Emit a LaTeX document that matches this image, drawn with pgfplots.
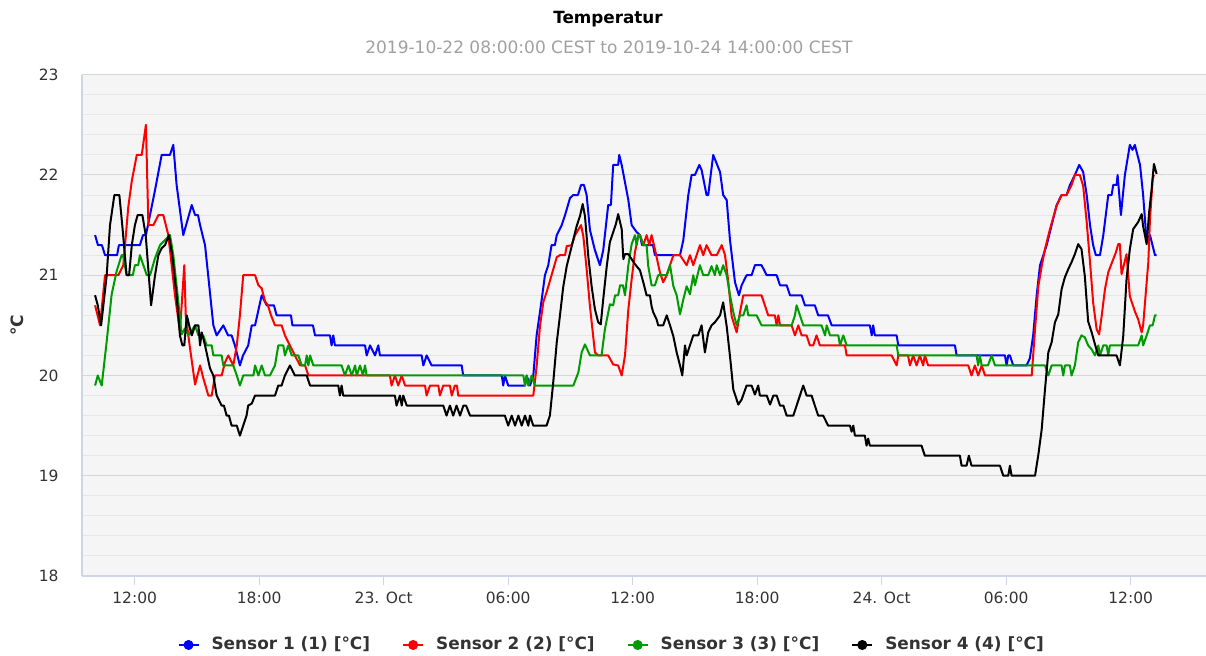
\documentclass[border=0pt]{standalone}
\usepackage{fontspec}
\setmainfont{DejaVu Sans}
\usepackage{pgfplots}
\pgfplotsset{compat=1.18}
\definecolor{axline}{RGB}{204,214,235}
\definecolor{bgc}{RGB}{245,245,245}
\definecolor{gmaj}{RGB}{214,214,214}
\definecolor{gmin}{RGB}{230,230,230}
\definecolor{txt}{RGB}{51,51,51}
\definecolor{subc}{RGB}{160,160,160}
\definecolor{sblue}{RGB}{0,0,255}
\definecolor{sred}{RGB}{255,0,0}
\definecolor{sgreen}{RGB}{0,155,0}
\begin{document}
\begin{tikzpicture}
\useasboundingbox (0,0) rectangle (603pt,327.5pt);
\begin{axis}[
  at={(41pt,39.5pt)}, anchor=south west,
  scale only axis, width=562pt, height=250.65pt,
  xmin=9.46, xmax=63.63, ymin=18, ymax=23,
  /pgf/number format/assume math mode=true,
  axis background/.style={fill=bgc},
  axis x line*=bottom, axis y line*=left,
  x axis line style={-, draw=axline, line width=0.6pt},
  y axis line style={-, draw=axline, line width=0.6pt},
  xtick={12,18,24,30,36,42,48,54,60},
  xticklabels={12:00,18:00,23. Oct,06:00,12:00,18:00,24. Oct,06:00,12:00},
  ytick={18,19,20,21,22,23},
  minor y tick num=4,
  ymajorgrids, yminorgrids,
  major grid style={draw=gmaj, line width=0.5pt},
  minor grid style={draw=gmin, line width=0.5pt},
  tick align=outside,
  major tick length=4.5pt, minor tick length=0pt,
  xtick style={draw=axline, line width=0.5pt},
  ytick style={draw=none},
  xticklabel style={font=\fontsize{7.75}{9}\selectfont, text=txt, anchor=center, inner sep=0pt, yshift=-6.25pt},
  yticklabel style={font=\fontsize{7.75}{9}\selectfont, text=txt, anchor=east, inner sep=0pt, xshift=-7pt},
  ylabel={\textbf{°C}},
  ylabel style={at={(axis description cs:-0.0578,0.5)}, anchor=center, font=\fontsize{8.5}{10}\selectfont, text=txt},
  legend columns=4,
  legend style={at={(0.085,-0.1376)}, anchor=west, draw=none, fill=none, inner sep=0pt, outer sep=0pt,
    font=\bfseries\fontsize{8.45}{10}\selectfont, text=txt,
    /tikz/every odd column/.append style={column sep=4pt},
    /tikz/every even column/.append style={column sep=14pt}},
  legend cell align=left,
  legend image code/.code={\draw[mark repeat=2, mark phase=2, #1, mark=*, mark size=2pt] plot coordinates {(0pt,0pt) (5pt,0pt) (10pt,0pt)};},
]
\addplot[sblue, line width=1pt, line join=round] table {
10.09 21.4
10.23 21.3
10.42 21.3
10.57 21.2
11.15 21.2
11.24 21.3
12.25 21.3
12.40 21.4
12.54 21.4
12.64 21.5
12.98 21.85
13.30 22.2
13.70 22.2
13.86 22.3
14.02 21.9
14.34 21.4
14.75 21.7
14.91 21.6
15.05 21.6
15.15 21.5
15.39 21.3
15.79 20.5
15.95 20.4
16.27 20.5
16.50 20.4
16.67 20.4
16.83 20.3
17.07 20.1
17.22 20.2
17.47 20.3
17.64 20.5
17.80 20.5
18.12 20.8
18.36 20.7
18.71 20.7
18.84 20.6
19.53 20.6
19.60 20.5
20.59 20.5
20.69 20.4
21.41 20.4
21.49 20.3
21.57 20.4
21.65 20.3
23.10 20.3
23.18 20.2
23.34 20.3
23.58 20.2
23.74 20.3
23.82 20.2
25.83 20.2
25.91 20.1
26.07 20.2
26.31 20.1
27.76 20.1
27.83 20.0
29.69 20.0
29.76 19.9
29.84 20.0
30.00 19.9
30.81 19.9
30.89 20.0
31.05 19.9
31.21 20.0
31.37 20.4
31.61 20.75
31.77 21.0
31.93 21.1
32.09 21.3
32.25 21.3
32.34 21.4
32.58 21.5
32.74 21.6
32.98 21.77
33.14 21.8
33.36 21.8
33.51 21.9
33.65 21.9
33.78 21.8
33.94 21.45
34.18 21.25
34.42 21.1
34.58 21.25
34.82 21.7
34.95 21.7
35.06 22.1
35.30 22.1
35.35 22.2
35.47 22.1
35.79 21.75
35.95 21.5
36.19 21.43
36.35 21.4
36.45 21.3
36.98 21.3
37.07 21.2
38.28 21.2
38.44 21.35
38.68 21.8
38.84 22.0
39.00 22.0
39.21 22.1
39.32 22.05
39.56 21.8
39.64 21.8
39.88 22.2
40.21 22.03
40.36 21.8
40.53 21.75
40.69 21.35
40.93 20.93
41.12 20.8
41.25 20.9
41.49 21.0
41.73 21.0
41.89 21.1
42.21 21.1
42.46 21.0
42.94 21.0
43.10 20.9
43.42 20.9
43.58 20.8
44.14 20.8
44.30 20.7
44.78 20.7
44.94 20.6
45.41 20.6
45.59 20.5
47.43 20.5
47.52 20.4
47.59 20.5
47.67 20.4
48.72 20.4
48.80 20.3
51.53 20.3
51.61 20.2
53.94 20.2
54.02 20.1
54.10 20.2
54.18 20.2
54.34 20.1
54.98 20.1
55.14 20.17
55.30 20.4
55.47 20.8
55.63 21.1
55.79 21.2
55.95 21.3
56.19 21.5
56.43 21.7
56.67 21.8
56.91 21.8
57.07 21.9
57.31 22.0
57.52 22.1
57.71 22.03
57.88 21.8
58.04 21.5
58.19 21.3
58.32 21.2
58.52 21.2
58.68 21.4
58.92 21.8
59.08 21.8
59.16 21.9
59.32 21.9
59.37 22.0
59.53 21.6
59.72 22.0
59.96 22.3
60.09 22.25
60.20 22.3
60.45 22.1
60.60 21.8
60.77 21.33
60.93 21.4
61.17 21.2
61.25 21.2
};
\addlegendentry{Sensor 1 (1) [°C]}
\addplot[sred, line width=1pt, line join=round] table {
10.09 20.7
10.33 20.5
10.57 21.0
11.21 21.0
11.45 21.1
11.69 21.68
11.86 21.94
12.10 22.2
12.34 22.2
12.54 22.5
12.66 21.5
12.90 21.5
13.14 21.6
13.38 21.6
13.62 21.4
13.94 20.8
14.18 20.44
14.39 21.1
14.46 20.6
14.66 20.28
14.91 19.91
15.15 20.1
15.31 19.97
15.55 19.8
15.71 19.8
15.87 20.0
16.19 20.0
16.35 20.13
16.51 20.2
16.75 20.1
16.92 20.3
17.07 20.6
17.23 21.0
17.80 21.0
17.96 20.9
18.12 20.87
18.28 20.74
18.42 20.7
18.57 20.6
18.76 20.5
19.08 20.5
19.24 20.4
19.48 20.3
19.72 20.2
19.97 20.1
20.21 20.1
20.37 20.0
24.30 20.0
24.38 19.9
24.54 20.0
24.70 19.9
24.87 20.0
25.03 19.9
25.99 19.9
26.07 19.8
26.23 19.9
26.63 19.9
26.71 19.8
26.87 19.9
27.19 19.9
27.28 19.8
27.43 19.9
27.53 19.9
27.59 19.8
31.21 19.8
31.37 20.09
31.53 20.49
31.69 20.73
31.85 20.83
32.09 21.0
32.34 21.18
32.49 21.2
32.74 21.2
32.82 21.29
33.06 21.3
33.22 21.4
33.51 21.5
33.62 21.39
33.78 21.06
33.94 20.69
34.18 20.23
34.34 20.2
34.82 20.2
35.06 20.11
35.30 20.1
35.47 20.0
35.63 20.2
35.79 20.66
35.95 20.96
36.11 21.23
36.27 21.4
36.35 21.4
36.51 21.3
36.67 21.4
36.80 21.3
36.91 21.4
37.07 21.26
37.31 21.03
37.47 20.93
37.64 21.0
37.80 21.1
37.96 21.2
38.28 21.2
38.60 21.1
38.76 21.2
38.92 21.1
39.08 21.2
39.24 21.3
39.40 21.2
39.56 21.3
39.80 21.2
40.05 21.2
40.29 21.3
40.45 21.2
40.61 20.93
40.77 20.59
41.01 20.43
41.17 20.63
41.33 20.8
42.21 20.8
42.37 20.7
42.53 20.6
42.85 20.6
42.94 20.5
43.02 20.6
43.10 20.5
43.66 20.5
43.82 20.4
43.98 20.5
44.14 20.4
44.38 20.4
44.54 20.3
44.70 20.3
44.86 20.4
45.02 20.3
46.23 20.3
46.31 20.2
48.48 20.2
48.72 20.1
48.80 20.2
49.27 20.2
49.36 20.1
49.52 20.2
49.68 20.1
49.84 20.2
50.00 20.1
50.08 20.2
50.24 20.1
52.17 20.1
52.33 20.0
52.49 20.1
52.65 20.0
52.82 20.1
52.98 20.0
55.23 20.0
55.39 20.46
55.55 20.89
55.71 21.09
55.87 21.26
56.11 21.46
56.43 21.69
56.67 21.8
56.91 21.8
57.15 21.9
57.31 22.0
57.55 22.0
57.71 21.89
57.88 21.53
58.04 21.13
58.19 20.73
58.36 20.46
58.48 20.41
58.60 20.59
58.76 20.86
58.92 21.03
59.16 21.16
59.29 21.23
59.40 21.31
59.48 21.31
59.56 21.01
59.80 21.21
59.96 20.79
60.20 20.64
60.36 20.56
60.53 20.43
60.60 20.5
60.77 20.93
60.85 21.13
60.93 21.56
61.06 21.96
61.12 22.0
};
\addlegendentry{Sensor 2 (2) [°C]}
\addplot[sgreen, line width=1pt, line join=round] table {
10.09 19.9
10.22 20.0
10.41 19.9
10.65 20.34
10.89 20.81
11.13 21.04
11.37 21.2
11.44 21.2
11.61 21.0
11.91 21.0
12.01 21.1
12.17 21.1
12.25 21.2
12.50 21.05
12.58 21.0
12.74 21.0
12.98 21.17
13.22 21.3
13.46 21.35
13.70 21.4
13.86 21.2
14.10 20.74
14.26 20.41
14.42 20.47
14.59 20.4
14.91 20.5
15.07 20.4
15.30 20.4
15.47 20.3
15.71 20.3
15.79 20.2
16.19 20.2
16.27 20.1
16.75 20.1
16.92 20.0
17.07 19.9
17.23 20.0
17.72 20.0
17.80 20.1
17.96 20.0
18.12 20.1
18.28 20.0
18.52 20.0
18.76 20.1
18.92 20.3
19.16 20.3
19.24 20.2
19.40 20.3
19.57 20.2
19.89 20.2
20.05 20.1
20.21 20.1
20.29 20.2
20.37 20.1
20.45 20.2
20.61 20.1
21.97 20.1
22.13 20.0
22.30 20.1
22.46 20.0
22.62 20.1
22.70 20.0
22.86 20.1
23.00 20.0
23.10 20.1
23.18 20.0
30.73 20.0
30.81 19.9
30.89 20.0
30.97 19.9
31.13 20.0
31.29 19.9
33.14 19.9
33.38 20.03
33.54 20.23
33.70 20.31
33.94 20.2
34.50 20.2
34.66 20.46
34.90 20.71
35.06 20.7
35.15 20.8
35.30 20.8
35.39 20.9
35.53 20.9
35.63 20.8
35.79 21.1
35.95 21.31
36.11 21.4
36.19 21.3
36.27 21.4
36.35 21.4
36.51 21.3
36.67 21.3
36.75 21.09
36.91 20.9
37.07 20.9
37.23 21.0
37.64 21.0
37.80 21.1
37.96 20.89
38.12 20.8
38.28 20.61
38.44 20.76
38.60 20.89
38.76 20.81
38.92 21.0
39.00 20.9
39.24 21.1
39.40 21.0
39.64 21.0
39.80 21.09
39.96 21.0
40.05 21.1
40.21 21.0
40.36 21.1
40.53 21.0
40.69 20.8
40.85 20.63
41.01 20.5
41.17 20.6
41.33 20.6
41.49 20.7
41.57 20.6
41.97 20.6
42.21 20.5
43.66 20.5
43.82 20.6
43.90 20.7
44.06 20.6
44.22 20.5
45.10 20.5
45.27 20.4
45.35 20.5
45.51 20.4
45.91 20.4
45.99 20.3
46.15 20.4
46.31 20.3
48.72 20.3
48.80 20.2
52.57 20.2
52.65 20.1
52.73 20.2
52.82 20.1
53.12 20.1
53.30 20.2
53.46 20.1
55.87 20.1
56.03 20.0
56.19 20.1
56.67 20.1
56.75 20.0
56.83 20.1
57.07 20.1
57.15 20.0
57.31 20.1
57.47 20.33
57.63 20.4
57.79 20.38
57.95 20.3
58.12 20.26
58.28 20.2
58.44 20.3
58.52 20.2
58.68 20.3
58.84 20.3
58.92 20.2
59.00 20.3
60.36 20.3
60.53 20.4
60.60 20.3
60.77 20.4
60.93 20.5
61.06 20.5
61.17 20.6
61.25 20.6
};
\addlegendentry{Sensor 3 (3) [°C]}
\addplot[black, line width=1pt, line join=round] table {
10.09 20.8
10.22 20.7
10.38 20.5
10.49 20.7
10.65 21.0
10.81 21.5
11.02 21.8
11.26 21.8
11.40 21.5
11.61 21.0
11.73 21.0
11.86 21.3
12.01 21.5
12.14 21.6
12.37 21.6
12.53 21.4
12.79 20.7
12.98 21.0
13.14 21.2
13.30 21.27
13.46 21.3
13.65 21.4
13.81 21.2
14.02 20.8
14.18 20.4
14.30 20.3
14.39 20.3
14.51 20.6
14.66 20.47
14.75 20.4
14.91 20.5
15.07 20.5
15.15 20.3
15.23 20.43
15.39 20.3
15.63 20.07
15.79 20.0
15.95 19.8
16.19 19.7
16.30 19.7
16.43 19.6
16.54 19.6
16.67 19.5
16.92 19.5
17.07 19.4
17.23 19.5
17.39 19.6
17.47 19.7
17.64 19.72
17.80 19.8
18.76 19.8
18.92 19.9
19.08 19.9
19.24 20.0
19.48 20.1
19.72 20.0
20.29 20.0
20.45 19.9
21.81 19.9
21.89 19.8
21.97 19.9
22.05 19.8
24.54 19.8
24.62 19.7
24.78 19.8
24.87 19.7
24.94 19.8
25.11 19.7
26.87 19.7
27.03 19.6
27.19 19.7
27.35 19.6
27.51 19.7
27.68 19.6
27.84 19.7
27.97 19.7
28.16 19.6
29.84 19.6
30.00 19.5
30.17 19.6
30.33 19.5
30.49 19.6
30.65 19.5
30.81 19.6
30.97 19.5
31.05 19.6
31.21 19.5
31.85 19.5
32.01 19.6
32.17 19.93
32.34 20.33
32.49 20.59
32.65 20.88
32.82 21.09
33.06 21.29
33.30 21.49
33.46 21.59
33.59 21.71
33.70 21.59
33.86 21.19
34.02 20.89
34.18 20.66
34.34 20.53
34.46 20.51
34.58 20.76
34.75 21.09
34.90 21.33
35.06 21.43
35.19 21.51
35.30 21.61
35.47 21.46
35.55 21.16
35.63 21.21
35.79 21.21
35.95 21.16
36.11 21.11
36.35 21.05
36.51 20.93
36.67 20.8
36.83 20.8
36.91 20.69
36.99 20.63
37.15 20.56
37.23 20.5
37.47 20.5
37.64 20.6
37.80 20.5
37.96 20.39
38.12 20.23
38.28 20.1
38.39 20.0
38.52 20.3
38.60 20.2
38.76 20.3
38.92 20.4
39.16 20.4
39.32 20.5
39.48 20.23
39.64 20.43
39.80 20.5
39.96 20.53
40.21 20.6
40.36 20.73
40.53 20.49
40.69 20.19
40.85 19.86
41.09 19.71
41.25 19.76
41.49 19.9
41.73 19.9
41.89 19.81
42.05 19.9
42.13 19.8
42.46 19.8
42.62 19.71
42.78 19.8
42.94 19.8
43.10 19.7
43.26 19.7
43.42 19.6
43.74 19.6
43.90 19.7
44.06 19.8
44.22 19.9
44.38 19.8
44.62 19.8
44.78 19.7
44.94 19.6
45.18 19.6
45.42 19.5
46.47 19.5
46.55 19.44
46.63 19.5
46.71 19.4
47.19 19.4
47.27 19.3
47.35 19.37
47.43 19.3
49.92 19.3
50.08 19.2
51.77 19.2
51.85 19.1
52.09 19.1
52.20 19.2
52.33 19.1
53.70 19.1
53.86 19.0
54.10 19.0
54.18 19.1
54.26 19.0
55.39 19.0
55.55 19.21
55.71 19.46
55.87 19.86
56.03 20.23
56.19 20.33
56.35 20.53
56.51 20.61
56.67 20.86
56.83 20.98
56.99 21.06
57.15 21.13
57.31 21.21
57.47 21.31
57.63 21.26
57.79 20.99
57.95 20.54
58.12 20.43
58.28 20.31
58.44 20.2
59.32 20.2
59.48 20.1
59.64 20.39
59.80 20.96
59.96 21.26
60.12 21.46
60.36 21.53
60.53 21.61
60.60 21.49
60.77 21.31
60.89 21.63
61.01 21.86
61.12 22.11
61.25 22.01
};
\addlegendentry{Sensor 4 (4) [°C]}
\end{axis}
\node[font=\bfseries\fontsize{8.4}{10}\selectfont, text=black] at (304pt,318pt) {Temperatur};
\node[font=\fontsize{8.5}{10}\selectfont, text=subc] at (304.5pt,304pt) {2019-10-22 08:00:00 CEST to 2019-10-24 14:00:00 CEST};
\end{tikzpicture}
\end{document}
